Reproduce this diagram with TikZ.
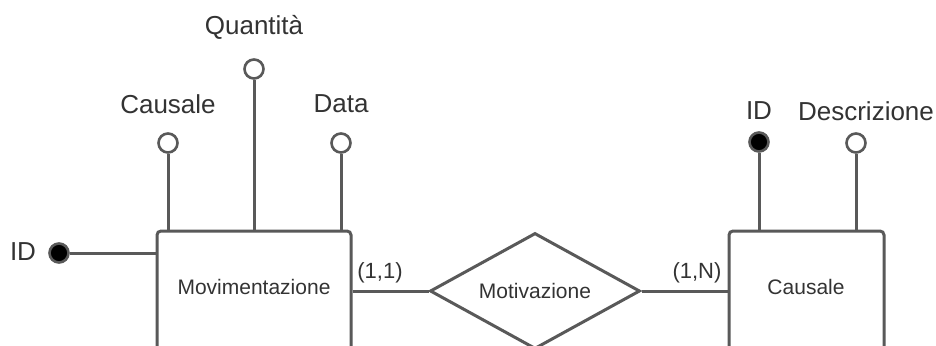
\documentclass[tikz,border=0pt]{standalone}
\usepackage{fontspec}
\setmainfont{Liberation Sans}
\usetikzlibrary{shapes.geometric}
\definecolor{ln}{HTML}{595959}
\definecolor{tx}{HTML}{333333}
\begin{document}
\begin{tikzpicture}[x=1pt,y=-1pt,
  every node/.style={text=tx},
  conn/.style={draw=ln,line width=3pt},
  entity/.style={draw=ln,line width=3pt,rounded corners=4pt,fill=white,inner sep=0pt},
  rel/.style={draw=ln,line width=3pt,shape=diamond,inner sep=0pt,minimum width=210pt,minimum height=116pt,fill=white},
  attr/.style={draw=ln,line width=2.6pt,circle,fill=white,inner sep=0pt,minimum size=19pt},
  key/.style={draw=ln,line width=2.6pt,circle,fill=black,inner sep=0pt,minimum size=19pt},
  lbl/.style={font=\fontsize{26}{29}\selectfont,inner sep=0pt},
  inlbl/.style={font=\fontsize{21}{24}\selectfont,inner sep=0pt},
  card/.style={font=\fontsize{22}{25}\selectfont,inner sep=0pt}]
\useasboundingbox (0,0) rectangle (936,345);
\clip (0,0) rectangle (936,345);
\fill[white] (0,0) rectangle (936,345);

% attribute circles
\node[attr] (cau) at (168,143) {};
\node[attr] (qua) at (254,69) {};
\node[attr] (dat) at (341,143) {};
\node[key]  (mid) at (59,253) {};
\node[key]  (cid) at (759,142) {};
\node[attr] (des) at (856,143) {};

% entities and relationship
\node[rel] (mot) at (535,291) {};
\node[entity,minimum width=194pt,minimum height=120pt] (mov) at (254,291) {};
\node[entity,minimum width=155pt,minimum height=120pt] (cas) at (806.5,291) {};

% connectors
\draw[conn] (cau.south) -- (cau.south |- mov.north);
\draw[conn] (qua.south) -- (qua.south |- mov.north);
\draw[conn] (dat.south) -- (dat.south |- mov.north);
\draw[conn] (mid.east) -- (mid.east -| mov.west);
\draw[conn] (cid.south) -- (cid.south |- cas.north);
\draw[conn] (des.south) -- (des.south |- cas.north);
\draw[conn] (mov.east) -- (mot.west);
\draw[conn] (mot.east) -- (cas.west);

% texts
\node[inlbl] (tm) at (254,287) {Movimentazione};
\node[inlbl] (tr) at (535,291) {Motivazione};
\node[inlbl] (tc) at (806,287) {Causale};
\node[lbl] (lq) at (254,27) {Quantità};
\node[lbl] (lc) at (168,104) {Causale};
\node[lbl] (ld) at (341,104) {Data};
\node[lbl] (li) at (23,252) {ID};
\node[lbl] (lci) at (759,111) {ID};
\node[lbl] (lde) at (866,111) {Descrizione};
\node[card] (k1) at (380,273) {(1,1)};
\node[card] (k2) at (697,273) {(1,N)};
\end{tikzpicture}
\end{document}
